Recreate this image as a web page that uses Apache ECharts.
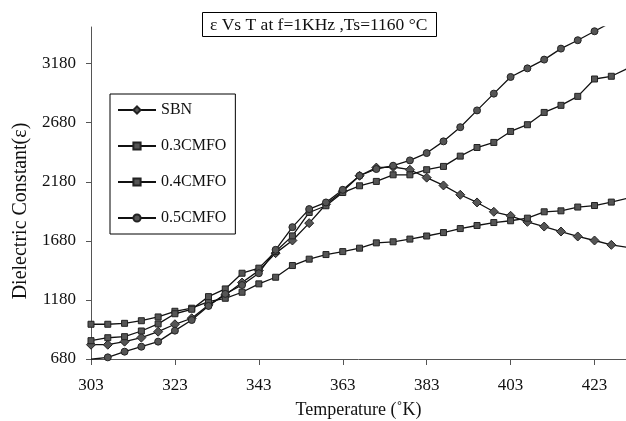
<!DOCTYPE html>
<html>
<head>
<meta charset="utf-8">
<script src="https://cdn.jsdelivr.net/npm/echarts@6/dist/echarts.min.js"></script>
<style>
  html, body { margin: 0; padding: 0; background: #fff; }
  #chart { width: 626px; height: 421px; }
</style>
</head>
<body>
<div id="chart"></div>
<script>
// temperature (K), one reading every 4 K
var temps = [303, 307, 311, 315, 319, 323, 327, 331, 335, 339, 343, 347, 351, 355, 359, 363,
  367, 371, 375, 379, 383, 387, 391, 395, 399, 403, 407, 411, 415, 419, 423, 427, 431];

var sbn = [801, 801, 827, 861, 911, 974, 1025, 1138, 1222, 1327, 1428, 1576, 1683, 1830, 1990, 2100,
  2231, 2300, 2305, 2282, 2215, 2149, 2070, 2005, 1926, 1892, 1841, 1801, 1759, 1717, 1683, 1646, 1625];
var cmfo03 = [974, 974, 982, 1004, 1036, 1084, 1110, 1166, 1194, 1245, 1316, 1372, 1471, 1525, 1564, 1589,
  1618, 1663, 1672, 1695, 1721, 1750, 1784, 1810, 1835, 1850, 1872, 1926, 1934, 1966, 1979, 2008, 2042];
var cmfo04 = [835, 860, 869, 917, 977, 1063, 1101, 1208, 1273, 1406, 1449, 1590, 1722, 1920, 1977, 2089,
  2146, 2183, 2239, 2239, 2282, 2310, 2397, 2470, 2513, 2606, 2663, 2767, 2827, 2903, 3050, 3073, 3140];
var cmfo05 = [678, 694, 742, 784, 827, 920, 1010, 1129, 1231, 1306, 1406, 1604, 1796, 1949, 2005, 2112,
  2231, 2288, 2316, 2361, 2423, 2522, 2642, 2784, 2926, 3067, 3140, 3214, 3307, 3378, 3454, 3530, 3600];

var xTicks = [303, 323, 343, 363, 383, 403, 423];
var yTicks = [680, 1180, 1680, 2180, 2680, 3180];

function pairs(vals) {
  return temps.map(function (t, i) { return [t, vals[i]]; });
}

function makeSeries(name, vals, symbol, size) {
  return {
    name: name,
    type: "line",
    data: pairs(vals),
    symbol: symbol,
    symbolSize: size,
    clip: true,
    lineStyle: { color: "#111", width: 1.3 },
    itemStyle: { color: "#555", borderColor: "#222", borderWidth: 1 },
    emphasis: { disabled: true },
  };
}

var font = "Liberation Serif";
var chart = echarts.init(document.getElementById("chart"));
chart.setOption({
  animation: false,
  title: {
    text: "ε Vs T at f=1KHz ,Ts=1160 °C",
    left: 202,
    top: 12,
    padding: [4, 9, 3, 8],
    borderColor: "#000",
    borderWidth: 1,
    textStyle: { fontFamily: font, fontSize: 17.5, fontWeight: "normal", color: "#111" },
  },
  legend: {
    orient: "vertical",
    left: 110,
    top: 94,
    padding: [8, 9, 8, 7],
    itemGap: 20,
    itemWidth: 38,
    itemHeight: 9,
    borderColor: "#000",
    borderWidth: 1,
    textStyle: { fontFamily: font, fontSize: 16, color: "#111", lineHeight: 16 },
    data: ["SBN", "0.3CMFO", "0.4CMFO", "0.5CMFO"],
  },
  grid: { left: 91, right: 0, top: 27, bottom: 62, outerBoundsMode: "none" },
  xAxis: {
    type: "value",
    min: 303,
    max: 430.5,
    name: "Temperature (˚K)",
    nameLocation: "middle",
    nameGap: 42,
    nameTextStyle: { fontFamily: font, fontSize: 18, color: "#111" },
    axisLine: { lineStyle: { color: "#555" } },
    axisTick: { customValues: xTicks, length: 6, lineStyle: { color: "#555" } },
    axisLabel: { customValues: xTicks, margin: 18, fontFamily: font, fontSize: 17, color: "#111" },
    splitLine: { show: false },
  },
  yAxis: {
    type: "value",
    min: 680,
    max: 3490,
    name: "Dielectric Constant(ε)",
    nameLocation: "middle",
    nameGap: 60,
    nameTextStyle: { fontFamily: font, fontSize: 20, color: "#111", padding: [0, 36, 0, 0] },
    axisLine: { show: true, lineStyle: { color: "#555" } },
    axisTick: { show: true, customValues: yTicks, length: 5, lineStyle: { color: "#555" } },
    axisLabel: {
      customValues: yTicks,
      margin: 15,
      fontFamily: font,
      fontSize: 17,
      color: "#111",
      formatter: function (v) { return String(v); },
    },
    splitLine: { show: false },
  },
  series: [
    makeSeries("SBN", sbn, "diamond", 9),
    makeSeries("0.3CMFO", cmfo03, "rect", 6),
    makeSeries("0.4CMFO", cmfo04, "rect", 6),
    makeSeries("0.5CMFO", cmfo05, "circle", 7),
  ],
});
</script>
</body>
</html>
